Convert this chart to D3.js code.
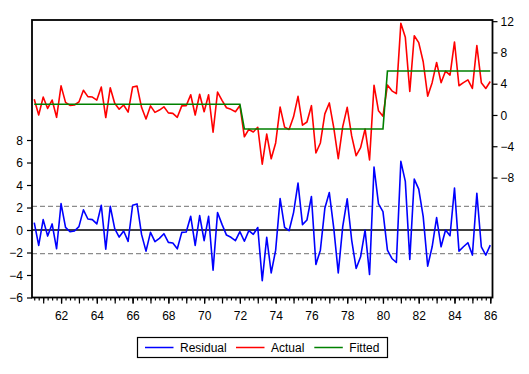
<!DOCTYPE html>
<html><head><meta charset="utf-8">
<script src="https://cdn.jsdelivr.net/npm/d3@7"></script>
<style>body{margin:0;background:#fff}svg{display:block;font-family:Arial,"Liberation Sans",sans-serif}</style>
</head><body><svg id="c" width="529" height="374"></svg>
<script>
// Quarterly observations 1960Q3 .. 1986Q1 (index 0..102)
const residual = [0.65,-1.37,0.92,-0.54,0.54,-1.67,2.35,0.24,-0.15,-0.09,0.30,1.79,0.98,0.92,0.54,2.20,-1.70,2.11,0.12,-0.63,-0.09,-1.01,2.20,2.32,-0.39,-1.88,-0.21,-1.04,-0.74,-0.33,-1.10,-1.16,-1.67,-0.21,-0.18,1.22,-1.37,1.28,-0.95,1.22,-3.57,1.55,0.50,-0.45,-0.65,-0.95,-0.15,-1.00,-0.06,-0.38,0.22,-4.50,-0.65,-3.81,-1.79,2.80,0.24,-0.06,1.55,4.17,0.48,0.89,2.98,-3.07,-1.79,1.93,3.33,0.15,-3.81,0.30,2.77,-0.89,-3.42,-2.38,0.00,-3.96,5.60,2.32,1.64,-1.79,-2.53,-2.89,6.10,4.32,-2.62,4.52,3.63,1.19,-3.21,-1.49,1.10,-1.49,0.00,-0.51,3.72,-1.88,-1.49,-1.13,-2.23,3.27,-1.49,-2.23,-1.34];
const actual = [2.02,0.00,2.29,0.83,1.91,-0.30,3.72,1.61,1.22,1.28,1.67,3.16,2.35,2.29,1.91,3.57,-0.33,3.48,1.49,0.74,1.28,0.36,3.57,3.69,0.98,-0.51,1.16,0.33,0.63,1.04,0.27,0.21,-0.30,1.16,1.19,2.59,0.00,2.65,0.42,2.59,-2.20,2.92,1.87,0.92,0.72,0.42,1.22,-2.79,-1.85,-2.17,-1.57,-6.29,-2.44,-5.60,-3.58,1.01,-1.55,-1.85,-0.24,2.38,-1.31,-0.90,1.19,-4.86,-3.58,0.14,1.54,-1.64,-5.60,-1.49,0.98,-2.68,-5.21,-4.17,-1.79,-5.75,3.81,0.53,-0.15,3.83,3.09,2.73,11.72,9.94,3.00,10.14,9.25,6.81,2.41,4.13,6.72,4.13,5.62,5.11,9.34,3.74,4.13,4.49,3.39,8.89,4.13,3.39,4.28];
const fittedLevels = [1.37,-1.79,5.62];
const fittedSegmentEnds = [46,78,102];  // last index of each level
const stdErr = 2.1;
const xTickLabels = ["62","64","66","68","70","72","74","76","78","80","82","84","86"];
const xLabelFirstIndex = 6; // 1962Q1
const leftTicks = [8,6,4,2,0,-2,-4,-6];
const rightTicks = [12,8,4,0,-4,-8];
const legendItems = [{name:"Residual",color:"#0000ff"},{name:"Actual",color:"#ff0000"},{name:"Fitted",color:"#008000"}];

const fitted = [];
{ let s=0; for(let i=0;i<actual.length;i++){ while(i>fittedSegmentEnds[s]) s++; fitted.push(fittedLevels[s]); } }

const L=32,R=492.5,T=20,B=297.5;
const N=actual.length;
const svg=d3.select("#c");
const x=d3.scaleLinear().domain([-0.5,N-0.5]).range([L,R]);
const yL=d3.scaleLinear().domain([-6,18.67]).range([B,T]);
const yR=d3.scaleLinear().domain([-23.35,12.15]).range([B,T]);

// dashed std err lines
[stdErr,-stdErr].forEach(v=>{
  svg.append("line").attr("x1",L).attr("x2",R).attr("y1",yL(v)).attr("y2",yL(v))
    .attr("stroke","#8c8c8c").attr("stroke-width",1.3).attr("stroke-dasharray","5,3");
});
// zero line
svg.append("line").attr("x1",L).attr("x2",R).attr("y1",yL(0)).attr("y2",yL(0)).attr("stroke","#000").attr("stroke-width",1.5);

const lineL=d3.line().x((d,i)=>x(i)).y(d=>yL(d));
const lineR=d3.line().x((d,i)=>x(i)).y(d=>yR(d));
svg.append("path").attr("d",lineL(residual)).attr("fill","none").attr("stroke","#0000ff").attr("stroke-width",1.6).attr("stroke-linejoin","round");
svg.append("path").attr("d",lineR(actual)).attr("fill","none").attr("stroke","#ff0000").attr("stroke-width",1.6).attr("stroke-linejoin","round");
svg.append("path").attr("d",lineR(fitted)).attr("fill","none").attr("stroke","#008000").attr("stroke-width",1.6);

// frame
svg.append("rect").attr("x",L).attr("y",T).attr("width",R-L).attr("height",B-T).attr("fill","none").attr("stroke","#000").attr("stroke-width",1.8);

// left axis
const gL=svg.append("g").attr("transform",`translate(${L},0)`)
  .call(d3.axisLeft(yL).tickValues(leftTicks).tickSize(5).tickPadding(4).tickFormat(d3.format("d")));
// right axis
const gR=svg.append("g").attr("transform",`translate(${R},0)`)
  .call(d3.axisRight(yR).tickValues(rightTicks).tickSize(5).tickPadding(3).tickFormat(d3.format("d")));
// bottom axis: quarterly minor ticks, yearly major
const minor=d3.range(0,N);
const gB=svg.append("g").attr("transform",`translate(0,${B})`)
  .call(d3.axisBottom(x).tickValues(minor).tickSize(3).tickFormat(""));
const major=d3.range(2,N,4);
svg.append("g").attr("transform",`translate(0,${B})`)
  .call(d3.axisBottom(x).tickValues(major).tickSize(6).tickFormat(""));
const lab=svg.append("g").attr("transform",`translate(0,${B})`)
  .call(d3.axisBottom(x).tickValues(xTickLabels.map((d,i)=>xLabelFirstIndex+8*i)).tickSize(6).tickPadding(8).tickFormat((d,i)=>xTickLabels[i]));
svg.selectAll(".domain").remove();
svg.selectAll(".tick line").attr("stroke","#000").attr("stroke-width",1.2);
svg.selectAll(".tick text").attr("font-size",12).attr("fill","#000").attr("font-family","Arial, 'Liberation Sans', sans-serif");
gL.selectAll(".tick text").attr("dy","0.35em");
gR.selectAll(".tick text").attr("dy","0.35em");

// legend
const lg=svg.append("g");
lg.append("rect").attr("x",137.5).attr("y",337.5).attr("width",250).attr("height",20).attr("fill","#fff").attr("stroke","#000").attr("stroke-width",1.2);
const lx=[145,236,314.3];
legendItems.forEach((it,i)=>{
  lg.append("line").attr("x1",lx[i]).attr("x2",lx[i]+28.5).attr("y1",347.5).attr("y2",347.5).attr("stroke",it.color).attr("stroke-width",1.5);
  lg.append("text").attr("x",lx[i]+35).attr("y",351.8).attr("font-size",12).text(it.name);
});
</script></body></html>
